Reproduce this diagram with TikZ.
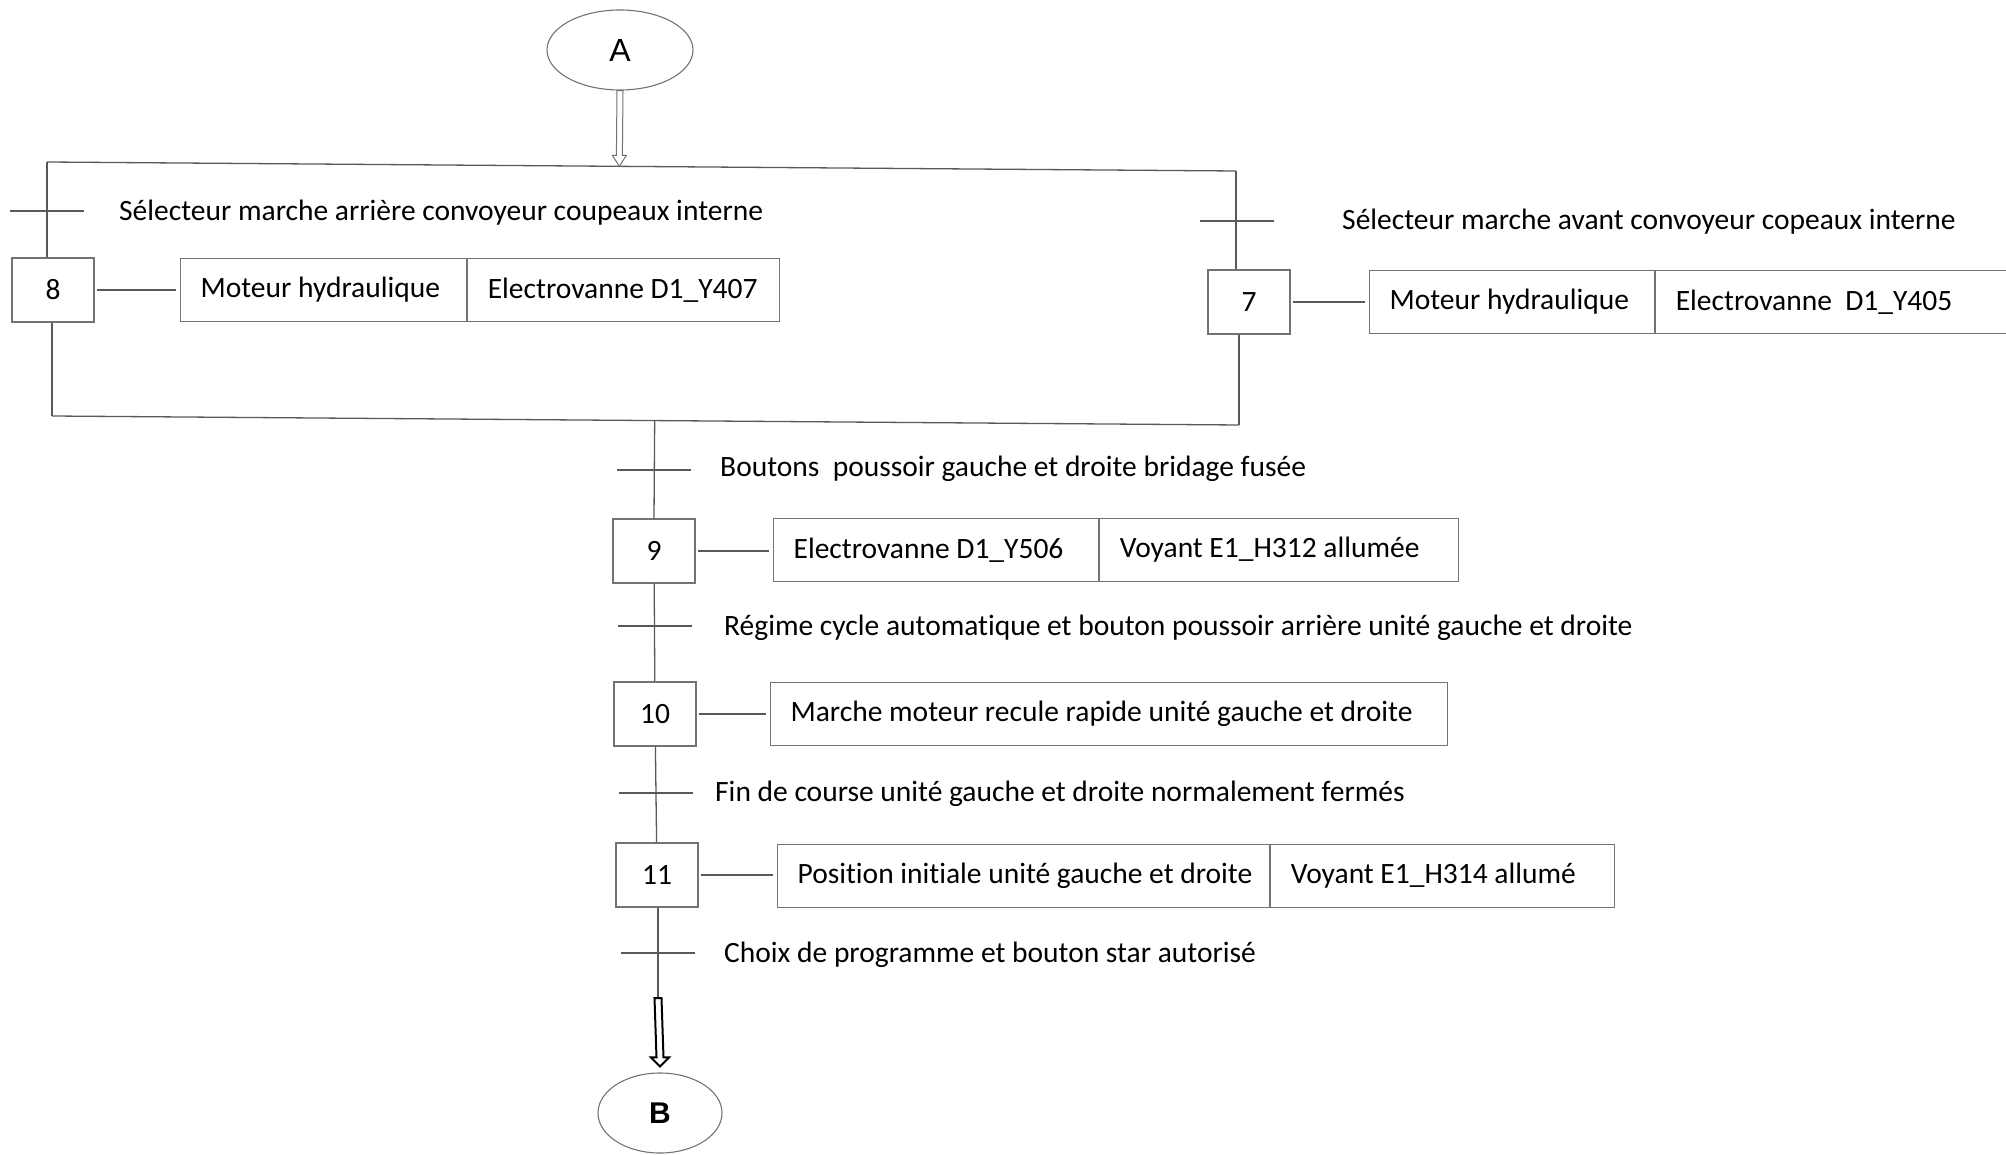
\documentclass[tikz,border=0pt]{standalone}
\usepackage{fontspec}
\setmainfont{Carlito}[Ligatures=NoCommon]
\newfontfamily\arialfont{Liberation Sans}
\usetikzlibrary{positioning,calc,shapes.geometric}

\definecolor{lignegris}{gray}{0.35}
\definecolor{boxgris}{gray}{0.45}

\newcommand{\flechecreuse}[6][]{%
  \draw[#1] ($(#2)+(-#4,0)$) -- ($(#3)+(-#4,-#6)$) -- ($(#3)+(-#5,-#6)$) -- (#3)
    -- ($(#3)+(#5,-#6)$) -- ($(#3)+(#4,-#6)$) -- ($(#2)+(#4,0)$) -- cycle;}

\tikzset{
  every node/.style={font=\fontsize{29.5}{34}\selectfont},
  etape/.style={draw=boxgris, line width=1.2pt, minimum width=82pt, minimum height=64pt, inner sep=0pt},
  action/.style={draw=boxgris, line width=1.2pt, minimum height=63pt, inner xsep=20pt, inner ysep=0pt,
    anchor=west, text width=#1, align=flush left,
    execute at begin node=\hbox\bgroup, execute at end node=\egroup},
  recep/.style={anchor=west, inner sep=0pt},
  ligne/.style={draw=lignegris, line width=1.3pt},
  renvoi/.style={ellipse, draw=boxgris, line width=1.1pt, inner sep=0pt},
}

\begin{document}
\begin{tikzpicture}[x=1pt,y=-1pt]
\clip (0,0) rectangle (2006,1155);

\node[renvoi, minimum width=146pt, minimum height=80pt, font=\arialfont\fontsize{32}{36}\selectfont] (A) at (620,50) {A};

\coordinate (hg) at (47,162);
\coordinate (hd) at (1236,171);
\coordinate (bg) at (52,416);
\coordinate (bd) at (1239,425);

\node[etape] (e8) at (53,290) {8};
\node[etape] (e7) at (1249,302) {7};
\node[etape] (e9) at (654,551) {9};
\node[etape] (e10) at (655,714) {10};
\node[etape] (e11) at (657,875) {11};

\node[action=246pt] (a8) at (180,290) {Moteur hydraulique};
\node[action=272pt, right=0pt of a8] (a8b) {Electrovanne D1\_Y407};
\node[action=245pt] (a7) at (1369,302) {Moteur hydraulique};
\node[action=346pt, right=0pt of a7] (a7b) {Electrovanne\ \ D1\_Y405};
\node[action=285pt] (a9) at (773,550) {Electrovanne D1\_Y506};
\node[action=319pt, right=0pt of a9] (a9b) {Voyant E1\_H312 allumée};
\node[action=637pt] (a10) at (770,714) {Marche moteur recule rapide unité gauche et droite};
\node[action=452pt] (a11) at (777,876) {Position initiale unité gauche et droite};
\node[action=304pt, right=0pt of a11] (a11b) {Voyant E1\_H314 allumé};

\node[renvoi, minimum width=124pt, minimum height=80pt, font=\arialfont\bfseries\fontsize{30}{34}\selectfont] (B) at (660,1113) {B};

% divergence / convergence en OU
\draw[ligne] (hg) -- (hd);
\draw[ligne] (bg) -- (bd);
\draw[ligne] (hg) -- (hg |- e8.north);
\draw[ligne] (e8.south -| bg) -- (bg);
\draw[ligne] (hd) -- (hd |- e7.north);
\draw[ligne] (e7.south -| bd) -- (bd);

\coordinate (j9) at ($(bg)!(e9.north)!(bd)$);
\draw[ligne] (j9) -- (e9.north);
\draw[ligne] (e9) -- (e10);
\draw[ligne] (e10) -- (e11);
\coordinate (fB) at (658,998);
\draw[ligne] (e11.south -| fB) -- (fB);

\foreach \e/\a in {e8/a8, e7/a7, e9/a9, e10/a10, e11/a11}
  \draw[ligne, shorten <=2pt, shorten >=4pt] (\e.east) -- (\e.east -| \a.west);

% receptivites
\coordinate (c8) at (47,211);
\coordinate (c7) at (1237,221);
\coordinate (c9) at (654,470);
\coordinate (c10) at (655,626);
\coordinate (c11) at (656,793);
\coordinate (cB) at (658,953);
\foreach \c in {c8, c7, c9, c10, c11, cB}
  \draw[ligne] ($(\c)+(-37,0)$) -- ($(\c)+(37,0)$);

\node[recep] (r8) at (119,213) {Sélecteur marche arrière convoyeur coupeaux interne};
\node[recep] (r7) at (1342,222) {Sélecteur marche avant convoyeur copeaux interne};
\node[recep] (r9) at (720,469) {Boutons\ \ poussoir gauche et droite bridage fusée};
\node[recep] (r10) at (724,628) {Régime cycle automatique et bouton poussoir arrière unité gauche et droite};
\node[recep] (r11) at (715,794) {Fin de course unité gauche et droite normalement fermés};
\node[recep] (rB) at (724,955) {Choix de programme et bouton star autorisé};

% renvois
\coordinate (tA) at ($(hg)!(A.south)!(hd)$);
\flechecreuse[draw=boxgris, line width=1pt, fill=white]{A.south}{tA}{3}{7}{11}
\coordinate (tB) at ($(B.north)+(0,-6)$);
\flechecreuse[draw=black, line width=2pt, fill=white]{fB}{tB}{3.5}{9}{9}

\end{tikzpicture}
\end{document}
